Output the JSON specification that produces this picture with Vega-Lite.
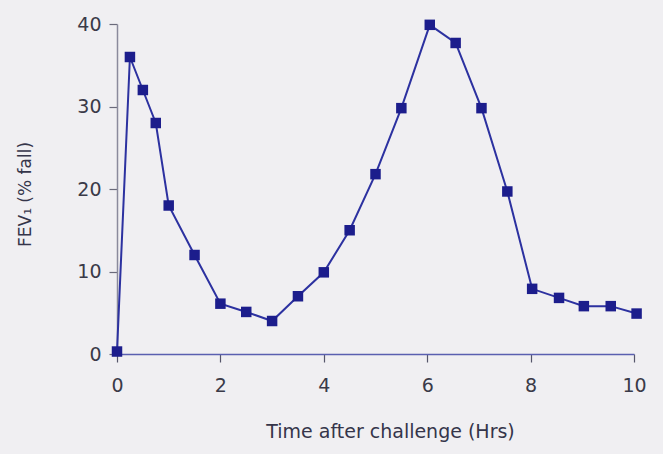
{
  "$schema": "https://vega.github.io/schema/vega-lite/v6.json",
  "autosize": "none",
  "width": 517,
  "height": 330,
  "padding": {"left": 117, "top": 24, "right": 29, "bottom": 100},
  "background": "#f0eff2",
  "config": {
    "view": {"stroke": null},
    "font": "DejaVu Sans"
  },
  "data": {
    "values": [
      {"t": 0, "fev": 0.3},
      {"t": 0.25, "fev": 36},
      {"t": 0.5, "fev": 32},
      {"t": 0.75, "fev": 28},
      {"t": 1, "fev": 18},
      {"t": 1.5, "fev": 12},
      {"t": 2, "fev": 6.1},
      {"t": 2.5, "fev": 5.1},
      {"t": 3, "fev": 4},
      {"t": 3.5, "fev": 7},
      {"t": 4, "fev": 9.9},
      {"t": 4.5, "fev": 15},
      {"t": 5, "fev": 21.8},
      {"t": 5.5, "fev": 29.8},
      {"t": 6.05, "fev": 39.9},
      {"t": 6.55, "fev": 37.7},
      {"t": 7.05, "fev": 29.8},
      {"t": 7.55, "fev": 19.7},
      {"t": 8.03, "fev": 7.9},
      {"t": 8.55, "fev": 6.8},
      {"t": 9.03, "fev": 5.8},
      {"t": 9.55, "fev": 5.8},
      {"t": 10.05, "fev": 4.9}
    ]
  },
  "encoding": {
    "x": {
      "field": "t",
      "type": "quantitative",
      "scale": {"domain": [0, 10], "nice": false, "zero": false},
      "axis": {
        "values": [0, 2, 4, 6, 8, 10],
        "grid": false,
        "title": "Time after challenge (Hrs)",
        "titleFont": "DejaVu Sans",
        "titleFontSize": 19,
        "titleFontWeight": "normal",
        "titleColor": "#35354a",
        "titleX": 273,
        "titleY": 83,
        "titleBaseline": "alphabetic",
        "titleAlign": "center",
        "labelFont": "DejaVu Sans",
        "labelFontSize": 19,
        "labelColor": "#3a3a48",
        "labelPadding": 14,
        "labelFlush": false,
        "domainColor": "#5a5fb0",
        "domainWidth": 1.5,
        "tickColor": "#55556a",
        "tickSize": 8,
        "tickWidth": 1.2
      }
    },
    "y": {
      "field": "fev",
      "type": "quantitative",
      "scale": {"domain": [0, 40], "nice": false},
      "axis": {
        "values": [0, 10, 20, 30, 40],
        "grid": false,
        "title": "FEV₁ (% fall)",
        "titleFont": "DejaVu Sans",
        "titleFontSize": 17,
        "titleFontWeight": "normal",
        "titleColor": "#35354a",
        "titleAngle": -90,
        "titleX": -92,
        "titleY": 170,
        "titleAlign": "center",
        "titleBaseline": "middle",
        "labelFont": "DejaVu Sans",
        "labelFontSize": 19,
        "labelColor": "#3a3a48",
        "labelPadding": 8,
        "labelBaseline": "middle",
        "labelFlush": false,
        "domainColor": "#8a8a9c",
        "domainWidth": 1.5,
        "tickColor": "#6a6a7a",
        "tickSize": 8,
        "tickWidth": 1.2
      }
    }
  },
  "layer": [
    {
      "mark": {"type": "line", "color": "#2c31a0", "strokeWidth": 2, "clip": false}
    },
    {
      "mark": {"type": "point", "shape": "square", "filled": true, "size": 110, "color": "#1c1d8c", "opacity": 1, "clip": false}
    }
  ]
}
